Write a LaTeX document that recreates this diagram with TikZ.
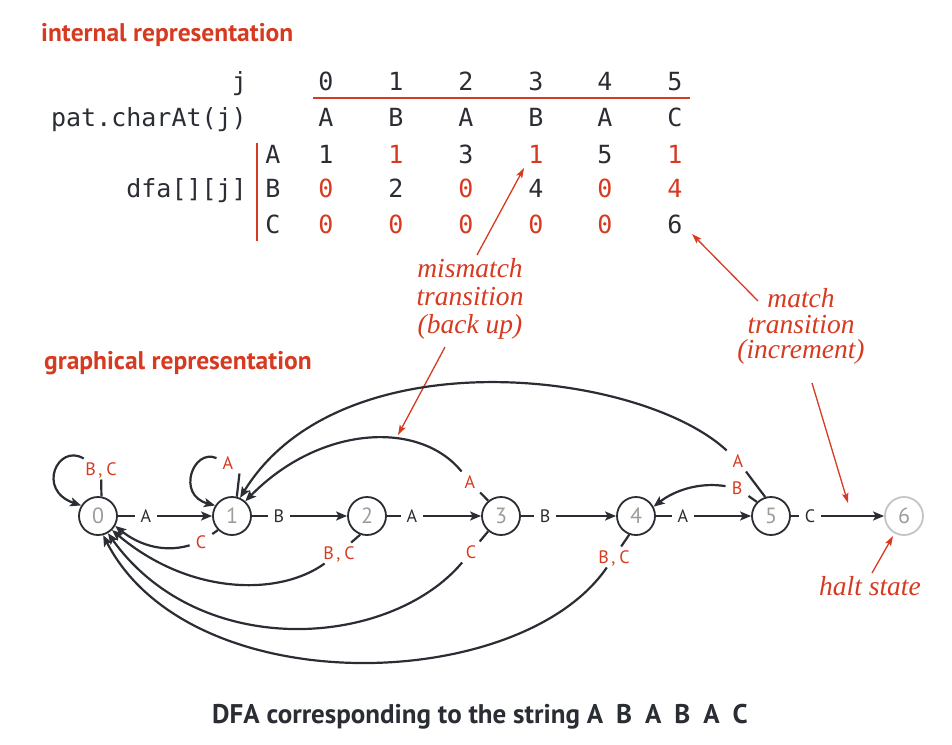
\documentclass[tikz,border=0pt]{standalone}
\usepackage{fontspec}
\newfontfamily\sffont{PT Sans}
\newfontfamily\mono{DejaVu Sans Mono}
\newfontfamily\annfont{Liberation Serif}
\usetikzlibrary{arrows.meta}
\definecolor{red1}{HTML}{D63A20}
\definecolor{ink}{HTML}{2A2D33}
\definecolor{dgray}{HTML}{9C9C9C}
\definecolor{lgray}{HTML}{C4C4C4}
\begin{document}
\begin{tikzpicture}[x=1pt,y=-1pt,
  state/.style={circle,draw=ink,line width=1.8pt,minimum size=38pt,inner sep=0pt,text=dgray,font=\sffont\fontsize{22}{22}\selectfont},
  haltstate/.style={state,draw=lgray},
  edge/.style={draw=ink,line width=2.2pt},
  arr/.style={edge,-{Stealth[length=11pt,width=9pt,inset=2.5pt]}},
  lbl/.style={font=\sffont\fontsize{18}{18}\selectfont,inner xsep=6pt,inner ysep=4pt,text height=12.6pt,text depth=0pt},
  blbl/.style={lbl,text=ink},
  rlbl/.style={lbl,text=red1},
  tbl/.style={font=\mono\fontsize{25}{25}\selectfont,inner sep=0pt,anchor=base,text=ink},
  rtbl/.style={tbl,text=red1},
  title/.style={font=\sffont\bfseries\fontsize{25.5}{25.5}\selectfont,text=red1,inner sep=0pt,anchor=base west},
  ann/.style={font=\annfont\itshape\fontsize{27.5}{27.5}\selectfont,text=red1,inner sep=0pt,anchor=base},
  annarr/.style={draw=red1,line width=1.3pt,-{Stealth[length=10pt,width=6.5pt,inset=2pt]}},
]
\useasboundingbox (0,0) rectangle (952,744);

% titles
\node[title] (tin) at (41,41) {internal representation};
\node[title] (tgr) at (44,369) {graphical representation};
\node[font=\sffont\bfseries\fontsize{27}{27}\selectfont,text=ink,inner sep=0pt,anchor=base] (cap) at (480,723)
  {DFA corresponding to the string A\hskip13pt B\hskip13pt A\hskip13pt B\hskip13pt A\hskip13pt C};

% table
\node[tbl,anchor=base east] (rj) at (247,90) {j};
\node[tbl,anchor=base east] (rp) at (247,126) {pat.charAt(j)};
\node[tbl,anchor=base east] (rd) at (247,197) {dfa[][j]};
\node[tbl] (ra) at (273,163) {A};
\node[tbl] (rb) at (273,197) {B};
\node[tbl] (rc) at (273,233) {C};
\draw[red1,line width=1.6pt] (257,143) -- (257,241);
\draw[red1,line width=1.6pt] (313,98) -- (690,98);

\node[tbl] (h0) at (326,90) {0};
\node[tbl] (h1) at (396,90) {1};
\node[tbl] (h2) at (466,90) {2};
\node[tbl] (h3) at (536,90) {3};
\node[tbl] (h4) at (605,90) {4};
\node[tbl] (h5) at (675,90) {5};

\node[tbl] (p0) at (326,126) {A};
\node[tbl] (p1) at (396,126) {B};
\node[tbl] (p2) at (466,126) {A};
\node[tbl] (p3) at (536,126) {B};
\node[tbl] (p4) at (605,126) {A};
\node[tbl] (p5) at (675,126) {C};

\node[tbl]  (a0) at (326,163) {1};
\node[rtbl] (a1) at (396,163) {1};
\node[tbl]  (a2) at (466,163) {3};
\node[rtbl] (a3) at (536,163) {1};
\node[tbl]  (a4) at (605,163) {5};
\node[rtbl] (a5) at (675,163) {1};

\node[rtbl] (b0) at (326,197) {0};
\node[tbl]  (b1) at (396,197) {2};
\node[rtbl] (b2) at (466,197) {0};
\node[tbl]  (b3) at (536,197) {4};
\node[rtbl] (b4) at (605,197) {0};
\node[rtbl] (b5) at (675,197) {4};

\node[rtbl] (c0) at (326,233) {0};
\node[rtbl] (c1) at (396,233) {0};
\node[rtbl] (c2) at (466,233) {0};
\node[rtbl] (c3) at (536,233) {0};
\node[rtbl] (c4) at (605,233) {0};
\node[tbl]  (c5) at (675,233) {6};

% annotations
\node[ann] (mm1) at (470,277) {mismatch};
\node[ann] (mm2) at (470,305) {transition};
\node[ann] (mm3) at (470,333) {(back up)};
\node[ann] (mt1) at (801,307) {match};
\node[ann] (mt2) at (801,333) {transition};
\node[ann] (mt3) at (801,358) {(increment)};
\node[ann] (hs) at (870,595) {halt state};

\coordinate (mmT1) at (477,255);
\coordinate (mmH1) at (524,168);
\coordinate (mmT2) at (445,347);
\coordinate (mmH2) at (398,435);
\coordinate (mtT1) at (758,301);
\coordinate (mtH1) at (692,234);
\coordinate (mtT2) at (812,383);
\coordinate (mtH2) at (848,503);
\coordinate (hsT) at (872,573);
\coordinate (hsH) at (893,536);
\draw[annarr] (mmT1) -- (mmH1);
\draw[annarr] (mmT2) -- (mmH2);
\draw[annarr] (mtT1) -- (mtH1);
\draw[annarr] (mtT2) -- (mtH2);
\draw[annarr] (hsT) -- (hsH);

% states
\node[state] (n0) at (98,516) {0};
\node[state] (n1) at (232,516) {1};
\node[state] (n2) at (367,516) {2};
\node[state] (n3) at (501,516) {3};
\node[state] (n4) at (636,516) {4};
\node[state] (n5) at (771,516) {5};
\node[haltstate] (n6) at (904,516) {6};

% match transitions
\node[blbl] (t01) at (146,516) {A};
\node[blbl] (t12) at (279,516) {B};
\node[blbl] (t23) at (412,516) {A};
\node[blbl] (t34) at (545,516) {B};
\node[blbl] (t45) at (683,516) {A};
\node[blbl] (t56) at (810,516) {C};
\draw[edge] (n0) -- (t01); \draw[arr] (t01) -- (n1);
\draw[edge] (n1) -- (t12); \draw[arr] (t12) -- (n2);
\draw[edge] (n2) -- (t23); \draw[arr] (t23) -- (n3);
\draw[edge] (n3) -- (t34); \draw[arr] (t34) -- (n4);
\draw[edge] (n4) -- (t45); \draw[arr] (t45) -- (n5);
\draw[edge] (n5) -- (t56); \draw[arr] (t56) -- (n6);

% mismatch transitions
\node[rlbl] (l00) at (101,469) {B\kern2.5pt,\kern4pt C};
\draw[edge] (n0.80) -- (l00);
\draw[arr] (l00) .. controls (58,443) and (36,490) .. (n0.148);

\node[rlbl] (l11) at (228,463) {A};
\draw[edge] (n1.76) -- (l11.south east);
\draw[arr] (l11) .. controls (193,448) and (176,495) .. (n1.148);

\node[rlbl] (l10) at (201,542) {C};
\draw[edge] (n1.-135) -- (l10);
\draw[arr] (l10) .. controls (160,554) and (135,542) .. (n0.-30);

\node[rlbl] (l20) at (339,553) {B\kern2.5pt,\kern4pt C};
\draw[edge] (n2.-110) -- (l20);
\draw[arr] (l20) .. controls (280,596) and (190,596) .. (n0.-45);

\node[rlbl] (l30) at (471,552) {C};
\draw[edge] (n3.-130) -- (l30);
\draw[arr] (l30) .. controls (390,648) and (200,662) .. (n0.-60);

\node[rlbl] (l40) at (614,557) {B\kern2.5pt,\kern4pt C};
\draw[edge] (n4.-110) -- (l40);
\draw[arr] (l40) .. controls (520,694) and (190,704) .. (n0.-75);

\node[rlbl] (l31) at (470,482) {A};
\draw[edge] (n3.130) -- (l31);
\draw[arr] (l31) .. controls (420,420) and (320,425) .. (n1.48);

\node[rlbl] (l51) at (738,461) {A};
\draw[edge] (n5.107) -- (l51);
\draw[arr] (l51) .. controls (640,370) and (340,335) .. (n1.66);

\node[rlbl] (l54) at (737,488) {B};
\draw[edge] (n5.135) -- (l54);
\draw[arr] (l54) .. controls (700,482) and (675,490) .. (n4.28);
\end{tikzpicture}
\end{document}
